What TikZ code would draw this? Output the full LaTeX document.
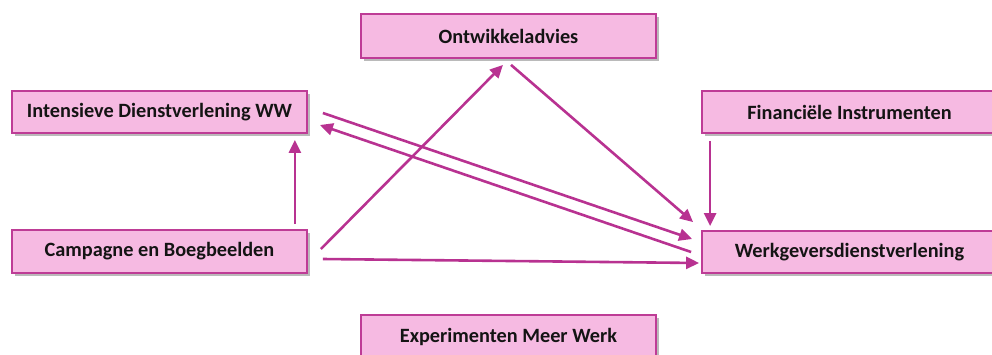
\documentclass[tikz,border=0pt]{standalone}
\usepackage{fontspec}
\setmainfont{Carlito}
\usetikzlibrary{arrows.meta,shadows}
\definecolor{boxfill}{RGB}{246,186,226}
\definecolor{boxline}{RGB}{190,60,150}
\definecolor{arrowc}{RGB}{184,50,145}
\tikzset{
  kbox/.style={draw=boxline, line width=1.8pt, fill=boxfill, minimum width=295pt,
    inner sep=0pt, font=\fontsize{20.3}{23}\selectfont\bfseries, text=black!92,
    drop shadow={shadow xshift=2.5pt, shadow yshift=-2.5pt, fill=black!45, opacity=0.6}},
  conn/.style={draw=arrowc, line width=2.6pt, -{Triangle[length=13pt,width=12pt]}, shorten >=0pt}
}
\begin{document}
\begin{tikzpicture}[x=1pt,y=-1pt]
\useasboundingbox (0,0) rectangle (992,354);
\clip (0,0) rectangle (992,354);
\node[kbox, minimum height=44pt] (ontw) at (508.5,36) {Ontwikkeladvies};
\node[kbox, minimum height=42pt] (intens) at (159.5,112) {Intensieve Dienstverlening WW};
\node[kbox, minimum height=42pt] (fin) at (849.5,112) {Financiële Instrumenten};
\node[kbox, minimum height=43pt] (camp) at (159.5,251.5) {Campagne en Boegbeelden};
\node[kbox, minimum height=42pt] (werk) at (849.5,252) {Werkgeversdienstverlening};
\node[kbox, minimum height=43pt] (exp) at (508.5,336.5) {Experimenten Meer Werk};
% connectors
\draw[conn] ([xshift=-13pt,yshift=5pt]camp.north east) -- ([xshift=-13pt,yshift=-6pt]intens.south east);
\draw[conn] ([xshift=13pt,yshift=2.5pt]camp.east) -- ([xshift=-5.5pt,yshift=-6pt]ontw.south);
\draw[conn] ([xshift=2.5pt,yshift=-6pt]ontw.south) -- ([xshift=-8pt,yshift=8pt]werk.north west);
\draw[conn] ([xshift=15pt,yshift=-1pt]intens.east) -- ([xshift=-9pt,yshift=13pt]werk.west);
\draw[conn] ([xshift=-10pt,yshift=0pt]werk.west) -- ([xshift=12pt,yshift=-13pt]intens.east);
\draw[conn] ([xshift=15pt,yshift=-7.5pt]camp.east) -- ([xshift=-2pt,yshift=-11pt]werk.west);
\draw[conn] ([xshift=9pt,yshift=-7pt]fin.south west) -- ([xshift=9pt,yshift=4pt]werk.north west);
\end{tikzpicture}
\end{document}
